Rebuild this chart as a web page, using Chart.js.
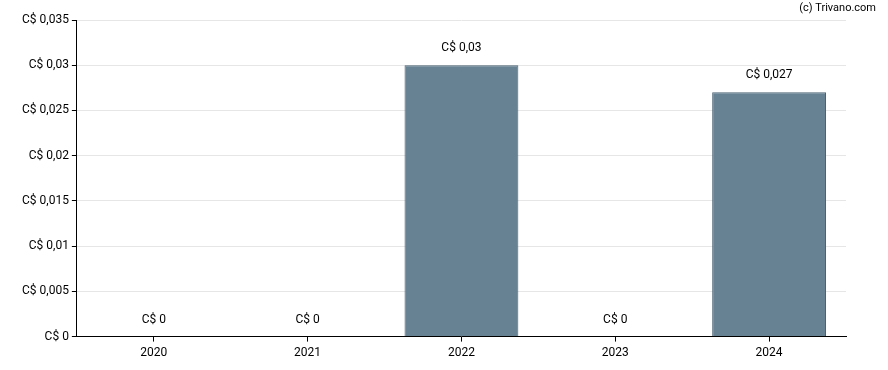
<!DOCTYPE html>
<html>
<head>
<meta charset="utf-8">
<script src="https://cdn.jsdelivr.net/npm/chart.js@4"></script>
<style>
  html, body { margin: 0; padding: 0; background: #fff; }
  #wrap { width: 888px; height: 370px; }
</style>
</head>
<body>
<div id="wrap"><canvas id="graph1" width="888" height="370"></canvas></div>
<script>
var years = ["2020", "2021", "2022", "2023", "2024"];
var dividends = [0, 0, 0.03, 0, 0.027];
var valueLabels = ["C$ 0", "C$ 0", "C$ 0,03", "C$ 0", "C$ 0,027"];

function fmt(v) {
	return "C$ " + String(+v.toFixed(3)).replace(".", ",");
}

// draw the value above each bar and the credit line
var labelPlugin = {
	id: 'labels',
	afterDatasetsDraw: function(chart) {
		var ctx = chart.ctx;
		var meta = chart.getDatasetMeta(0);
		ctx.save();
		ctx.font = "12px Roboto";
		ctx.fillStyle = "#000";
		ctx.textAlign = "center";
		ctx.textBaseline = "bottom";
		meta.data.forEach(function(bar, i) {
			ctx.fillText(valueLabels[i], bar.x, bar.y - 11);
		});
		ctx.textAlign = "right";
		ctx.textBaseline = "middle";
		ctx.font = "11px Roboto";
		ctx.fillText("(c) Trivano.com", 876, 8);
		ctx.restore();
	}
};

var ctx = document.getElementById('graph1').getContext('2d');
var chart = new Chart(ctx, {
	type: 'bar',
	data: {
		labels: years,
		datasets: [{
			data: dividends,
			backgroundColor: 'rgb(103, 130, 147)',
			borderColor: 'rgb(74, 99, 116)',
			borderWidth: 1,
			categoryPercentage: 1,
			barPercentage: 0.74
		}]
	},
	options: {
		responsive: false,
		animation: false,
		layout: { padding: { top: 20, right: 42, left: 19, bottom: 6 } },
		plugins: { legend: { display: false }, tooltip: { enabled: false } },
		scales: {
			x: {
				grid: { display: true, offset: false, drawOnChartArea: false, tickLength: 5, tickColor: '#000' },
				border: { color: '#000', width: 1 },
				ticks: { color: '#000', font: { family: 'Roboto', size: 12 }, padding: 4 }
			},
			y: {
				min: 0,
				max: 0.035,
				grid: { color: '#e6e6e6', tickLength: 5, tickColor: '#000' },
				border: { color: '#000', width: 1 },
				ticks: {
					stepSize: 0.005,
					color: '#000',
					font: { family: 'Roboto', size: 12 },
					padding: 3,
					callback: function(v) { return fmt(v); }
				}
			}
		}
	},
	plugins: [labelPlugin]
});
</script>
</body>
</html>
